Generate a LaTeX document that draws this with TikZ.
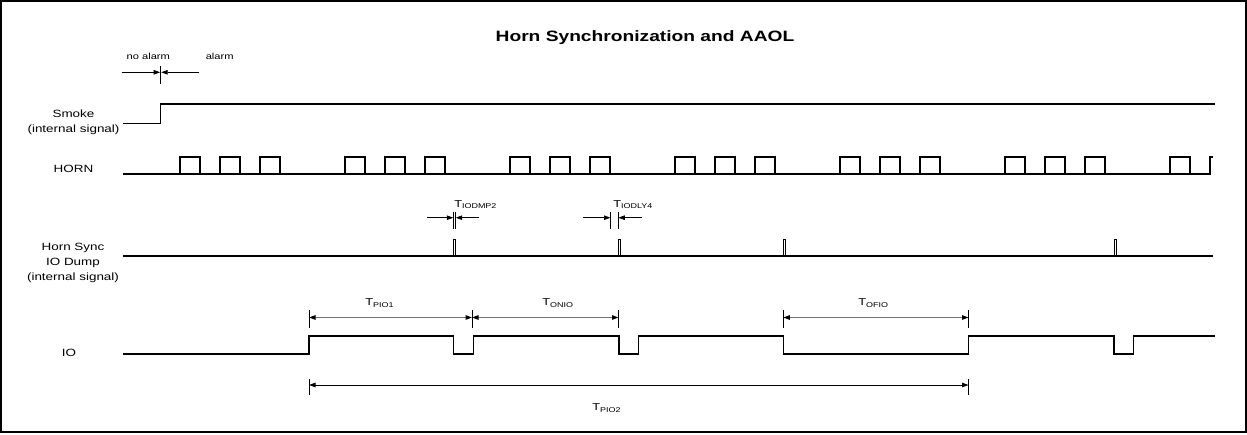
\documentclass[tikz,border=0pt]{standalone}
\usepackage{fontspec}
\setmainfont{Liberation Sans}
\usetikzlibrary{arrows.meta}
\def\hornburst(#1){\draw[sig] (#1, 174) -- ++(0, -17) -- ++(20, 0) -- ++(0, 17) -- ++(20, 0) -- ++(0, -17) -- ++(20, 0) -- ++(0, 17) -- ++(20, 0) -- ++(0, -17) -- ++(20, 0) -- ++(0, 17);}
\def\dumppulse(#1){\draw[line width=0.8pt] (#1, 256) -- ++(0, -17) -- ++(2.6, 0) -- ++(0, 17);}

\begin{document}
\begin{tikzpicture}[x=1pt, y=-1pt,
		sig/.style={line width=1.2pt},
		tick/.style={line width=0.8pt},
		ptr/.style={line width=0.8pt, -{Triangle[length=6.5pt, width=4.5pt]}},
		dim/.style={draw=black!55, line width=1.1pt, {Triangle[length=6.5pt, width=4.5pt, color=black]}-{Triangle[length=6.5pt, width=4.5pt, color=black]}},
		lbl/.style={font=\fontsize{10.5}{15}\selectfont, align=center, xscale=1.28, transform shape},
		tlbl/.style={font=\fontsize{10}{12}\selectfont, anchor=base west, inner sep=0pt, xscale=1.28, transform shape}]
		%%%%% START %%%%%
		
		\useasboundingbox (0, 0) rectangle (1247, 434);
		\draw[line width=1.6pt] (1, 1) rectangle (1245.8, 431.8);
		
		\node[lbl, font=\bfseries\fontsize{15}{18}\selectfont] (title) at (645, 38) {Horn Synchronization and AAOL};
		
		% alarm marker
		\node[lbl, font=\fontsize{8.7}{10}\selectfont] (noalarm) at (148.3, 56.5) {no alarm};
		\node[lbl, font=\fontsize{8.7}{10}\selectfont] (alarm) at (219.7, 56.5) {alarm};
		\coordinate (alarm-l) at (121.7, 72.3);
		\coordinate (alarm-r) at (199.3, 72.3);
		\draw[tick] (160.7, 66) -- (160.7, 84.3);
		\draw[ptr] (alarm-l) -- (160.2, 72.3);
		\draw[ptr] (alarm-r) -- (161.2, 72.3);
		
		% signal names
		\node[lbl] (smoke) at (73.5, 122.5) {Smoke\\(internal signal)};
		\node[lbl] (horn) at (73.5, 169) {HORN};
		\node[lbl] (sync) at (73, 263) {Horn Sync\\IO Dump\\(internal signal)};
		\node[lbl] (io) at (69, 353) {IO};
		
		% smoke
		\draw[sig] (123, 123.3) -- (160.5, 123.3) -- (160.5, 104) -- (1215, 104);
		
		% horn
		\draw[sig] (123, 174) -- (1210, 174);
		\hornburst(180);
		\hornburst(345);
		\hornburst(510);
		\hornburst(675);
		\hornburst(840);
		\hornburst(1005);
		\draw[sig] (1170, 174) -- (1170, 157) -- (1190, 157) -- (1190, 174) -- (1210, 174) -- (1210, 157) -- (1213, 157);
		
		% horn sync io dump
		\draw[sig] (123, 256) -- (1213, 256);
		\dumppulse(453.2);
		\dumppulse(618.2);
		\dumppulse(783.2);
		\dumppulse(1114);
		
		\node[tlbl] (tiodmp) at (454, 207.3) {T\textsubscript{IODMP2}};
		\draw[tick] (453.3, 211.7) -- (453.3, 229);
		\draw[tick] (455.7, 211.7) -- (455.7, 229);
		\draw[ptr] (427, 217.7) -- (453.3, 217.7);
		\draw[ptr] (479, 217.7) -- (455.7, 217.7);
		
		\node[tlbl] (tiodly) at (613, 207.3) {T\textsubscript{IODLY4}};
		\draw[tick] (610.5, 211.7) -- (610.5, 229);
		\draw[tick] (618.3, 211.7) -- (618.3, 229);
		\draw[ptr] (583, 217.7) -- (610.5, 217.7);
		\draw[ptr] (642, 217.7) -- (618.3, 217.7);
		
		% io
		\draw[sig] (123, 354) -- (309, 354) -- (309, 336) -- (453.3, 336) -- (453.3, 354) -- (473.3, 354) -- (473.3, 336) -- (619, 336) -- (619, 354) -- (638.5, 354) -- (638.5, 336) -- (783.3, 336) -- (783.3, 354) -- (968.5, 354) -- (968.5, 336) -- (1114, 336) -- (1114, 354) -- (1133.5, 354) -- (1133.5, 336) -- (1215, 336);
		
		% timings
		\coordinate (p1) at (309, 317.5);
		\coordinate (p2) at (472, 317.5);
		\coordinate (p3) at (618.5, 317.5);
		\coordinate (p4) at (783.3, 317.5);
		\coordinate (p5) at (968.5, 317.5);
		\foreach \x in {309, 472, 618.5, 783.3, 968.5}
			\draw[tick] (\x, 310) -- (\x, 328);
		\draw[dim] (p1) -- (p2);
		\draw[dim] (p2) -- (p3);
		\draw[dim] (p4) -- (p5);
		\node[tlbl] (tpio1) at (365, 305.7) {T\textsubscript{PIO1}};
		\node[tlbl] (tonio) at (542, 305.7) {T\textsubscript{ONIO}};
		\node[tlbl] (tofio) at (858, 305.7) {T\textsubscript{OFIO}};
		
		\coordinate (q1) at (309, 385);
		\coordinate (q2) at (968.5, 385);
		\draw[tick] (309, 379) -- (309, 395);
		\draw[tick] (968.5, 379) -- (968.5, 395);
		\draw[dim, draw=black, line width=0.9pt] (q1) -- (q2);
		\node[tlbl] (tpio2) at (592, 410.5) {T\textsubscript{PIO2}};
		
		%%%%% END %%%%%
	\end{tikzpicture}
\end{document}
